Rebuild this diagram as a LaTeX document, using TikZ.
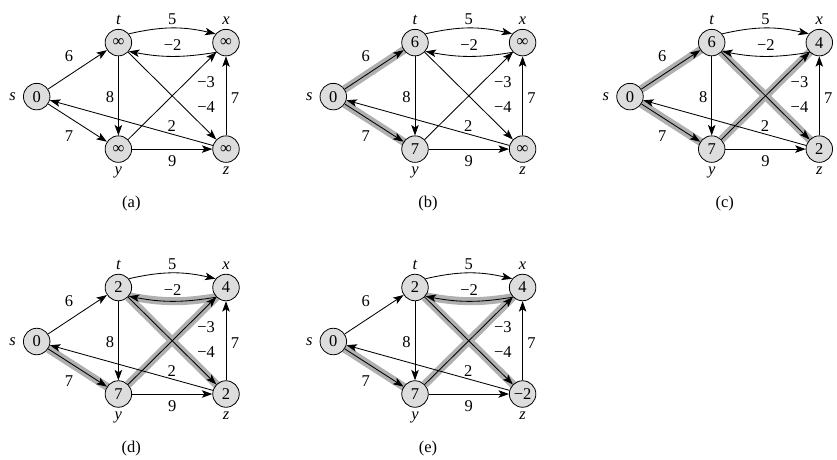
\documentclass[tikz,border=0pt]{standalone}
\usepackage{fontspec}
\setmainfont{Liberation Serif}
\usepackage{tikz}
\usetikzlibrary{arrows.meta,backgrounds}
\definecolor{bfgray}{HTML}{DDDDDD}
\definecolor{bfpath}{HTML}{B0B0B0}

\tikzset{
  vtx/.style={circle,draw,line width=0.8pt,fill=bfgray,minimum size=26.5pt,inner sep=0pt},
  vname/.style={font=\fontsize{16.5}{19}\selectfont\itshape,inner sep=0pt,label distance=4pt},
  wedge/.style={->,line width=0.85pt},
  wlab/.style={inner sep=0pt},
  relaxed/.style={line width=8pt,draw=bfpath},
}

% #1 panel letter, #2 position of s, #3-#7 values at s,t,x,y,z, #8 shortest-path edges
\newcommand{\bfpanel}[8]{%
  \begin{scope}[shift={#2},name prefix=#1-]
    \node[vtx,label={[vname,label distance=7pt]left:s}] (s) at (0,0) {#3};
    \node[vtx,label={[vname]above:t}] (t) at (81.7,-54) {#4};
    \node[vtx,label={[vname]above:x}] (x) at (189.3,-54) {#5};
    \node[vtx,label={[vname]below:y}] (y) at (81.7,52.5) {#6};
    \node[vtx,label={[vname]below:z}] (z) at (189.3,52.5) {#7};
    \begin{scope}[on background layer]
      \foreach \a/\b/\c in {#8} \draw[relaxed] (\a) to[bend left=\c] (\b);
    \end{scope}
    \draw[wedge] (s) -- node[wlab,shift={(-8.5,-13)}] {6} (t);
    \draw[wedge] (s) -- node[wlab,shift={(-8.5,13)}] {7} (y);
    \draw[wedge] (t.40) to[bend left=13] node[wlab,shift={(0,-8.5)}] {5} (x.140);
    \draw[wedge] (x.-135) to[bend left=10] node[wlab,shift={(0,-11.5)}] {−2} (t.-40);
    \draw[wedge] (t) -- node[wlab,shift={(-8.5,1)}] {8} (y);
    \draw[wedge] (t) -- node[wlab,shift={(34,11.25)}] {−4} (z);
    \draw[wedge] (y) -- node[wlab,shift={(34,-13.25)}] {−3} (x);
    \draw[wedge] (y) -- node[wlab,shift={(0,11.7)}] {9} (z);
    \draw[wedge] (z) -- node[wlab,shift={(9,2.4)}] {7} (x);
    \draw[wedge] (z) -- node[wlab,shift={(40.35,3)}] {2} (s);
    \node (cap) at (94.65,107) {(#1)};
  \end{scope}}

\begin{document}
\begin{tikzpicture}[x=1pt,y=-1pt,font=\fontsize{16.5}{19}\selectfont,
    >={Stealth[length=10.5pt,width=7.5pt,inset=2.5pt]}]
  \useasboundingbox (0,0) rectangle (837,459);
  \bfpanel{a}{(36.7,96.6)}{0}{∞}{∞}{∞}{∞}{}
  \bfpanel{b}{(333.3,96.6)}{0}{6}{∞}{7}{∞}{s/t/0,s/y/0}
  \bfpanel{c}{(630,96.6)}{0}{6}{4}{7}{2}{s/t/0,s/y/0,t/z/0,y/x/0}
  \bfpanel{d}{(36.7,341.5)}{0}{2}{4}{7}{2}{s/y/0,y/x/0,x.-135/t.-40/10,t/z/0}
  \bfpanel{e}{(333.3,341.5)}{0}{2}{4}{7}{−2}{s/y/0,y/x/0,x.-135/t.-40/10,t/z/0}
\end{tikzpicture}
\end{document}
